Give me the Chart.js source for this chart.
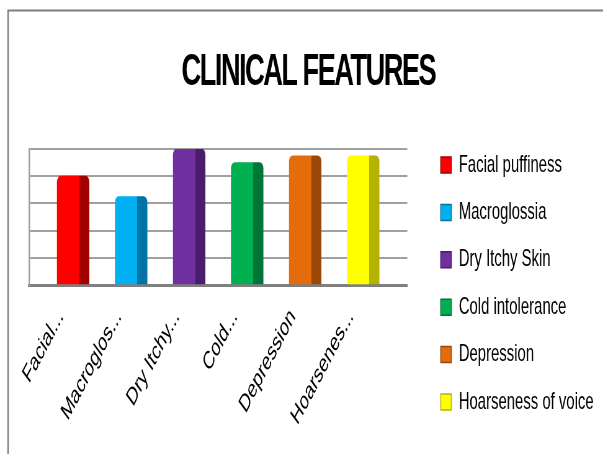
<!DOCTYPE html>
<html>
<head>
<meta charset="utf-8">
<script src="https://cdn.jsdelivr.net/npm/chart.js@4.4.1/dist/chart.umd.min.js"></script>
<style>
  html, body { margin: 0; padding: 0; background: #fff; overflow: hidden; }
  #wrap { width: 972px; height: 454px; transform: scaleX(0.6204); transform-origin: 0 0; }
  canvas { display: block; }
</style>
</head>
<body>
<div id="wrap"><canvas id="chart" width="972" height="454"></canvas></div>
<script>
// Clinical features of the patients
const categories = ['Facial puffiness', 'Macroglossia', 'Dry Itchy Skin', 'Cold intolerance', 'Depression', 'Hoarseness of voice'];
const tickLabels = ['Facial...', 'Macroglos...', 'Dry Itchy...', 'Cold...', 'Depression', 'Hoarsenes...'];
const values = [40, 32.5, 50, 45, 47.5, 47.5];
const faceColors = ['#FF0000', '#00B0F0', '#7030A0', '#00B050', '#E46C0A', '#FFFF00'];
const sideColors = ['#A40000', '#0074A6', '#4A1C6B', '#007538', '#9A4807', '#B4B400'];

const BAR_W = 51.6;      // whole bar, face + side
const LEGEND_W = 315.5;

// front face plus a darker right-hand side gives the bars their depth
function barFill(i) {
  return function (ctx) {
    if (ctx.type !== 'data') return faceColors[i];
    const xs = ctx.chart.scales.x;
    const cx = xs ? xs.getPixelForValue(i) : NaN;
    if (!Number.isFinite(cx)) return faceColors[i];
    const g = ctx.chart.ctx.createLinearGradient(cx - BAR_W / 2, 0, cx + BAR_W / 2, 0);
    g.addColorStop(0, faceColors[i]);
    g.addColorStop(0.685, faceColors[i]);
    g.addColorStop(0.69, sideColors[i]);
    g.addColorStop(1, sideColors[i]);
    return g;
  };
}

const datasets = categories.map((name, i) => ({
  label: name,
  data: [{ x: i, y: values[i] }],
  backgroundColor: barFill(i),
  borderWidth: 0,
  borderRadius: { topLeft: 6, topRight: 6 },
  borderSkipped: 'bottom',
  barThickness: BAR_W,
  grouped: false
}));

const framePlugin = {
  id: 'frame',
  beforeUpdate(chart) {
    const lg = chart.legend;
    if (lg && !lg._fixedWidth) {
      const fit = lg.fit.bind(lg);
      lg.fit = function () { fit(); this.width = LEGEND_W; };
      lg._fixedWidth = true;
    }
    const tb = chart.titleBlock;
    if (tb && !tb._tight) {
      const draw = tb.draw.bind(tb);
      tb.draw = function () {
        const c = chart.ctx;
        c.save();
        c.letterSpacing = '-2.5px';
        draw();
        c.restore();
      };
      tb._tight = true;
    }
  },
  afterLayout(chart) {
    const lg = chart.legend;
    if (lg) { lg.left = 687; lg.top = 129.6; }
  },
  beforeDraw(chart) {
    const c = chart.ctx;
    c.save();
    c.strokeStyle = '#7f7f7f';
    c.lineWidth = 2.5;
    c.beginPath(); c.moveTo(13, 10); c.lineTo(13, 454); c.stroke();
    c.lineWidth = 2;
    c.beginPath(); c.moveTo(12, 10.5); c.lineTo(972, 10.5); c.stroke();
    c.restore();
  }
};

new Chart(document.getElementById('chart'), {
  type: 'bar',
  data: { datasets },
  plugins: [framePlugin],
  options: {
    responsive: false,
    devicePixelRatio: 1,
    animation: false,
    layout: { padding: { left: 22, right: 0, top: 0, bottom: 0 } },
    plugins: {
      title: {
        display: true,
        text: 'CLINICAL FEATURES',
        color: '#000',
        font: { family: "'Liberation Sans Narrow', 'Liberation Sans', Arial, sans-serif", size: 44, weight: 'bold' },
        padding: { top: 46, bottom: 50.2 }
      },
      legend: {
        position: 'right',
        align: 'start',
        labels: {
          color: '#000',
          boxWidth: 17,
          boxHeight: 16,
          padding: 23.4,
          font: { family: "'Liberation Sans', Arial, sans-serif", size: 24 },
          generateLabels(chart) {
            return chart.data.datasets.map((ds, i) => ({
              text: ds.label,
              fillStyle: faceColors[i],
              strokeStyle: sideColors[i],
              lineWidth: 1.5,
              fontColor: '#000',
              hidden: false,
              datasetIndex: i
            }));
          }
        }
      },
      tooltip: { enabled: false }
    },
    scales: {
      x: {
        type: 'linear',
        offset: false,
        min: -0.76,
        max: 5.76,
        grid: { display: false },
        border: { display: true, color: '#7f7f7f', width: 3 },
        afterFit(s) { s.height = 454 - 285; },
        ticks: {
          stepSize: 1,
          includeBounds: false,
          autoSkip: false,
          maxRotation: 50,
          minRotation: 50,
          padding: 10,
          labelOffset: -20,
          color: '#000',
          font: { family: "'Liberation Sans', Arial, sans-serif", size: 25 },
          callback: (v) => (Number.isInteger(v) && tickLabels[v] !== undefined ? tickLabels[v] : '')
        }
      },
      y: {
        min: 0,
        max: 50,
        afterFit(s) { s.width = 24.8; },
        grid: { color: '#a0a0a0', lineWidth: 2, drawTicks: false },
        border: { display: true, color: '#a0a0a0', width: 2.5 },
        ticks: { display: false, stepSize: 10 }
      }
    }
  }
});
</script>
</body>
</html>
